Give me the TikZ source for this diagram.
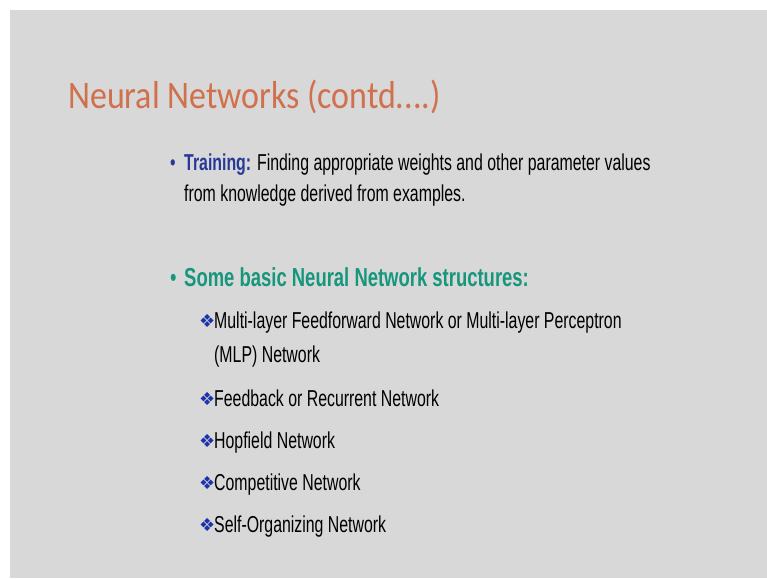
\documentclass[tikz,border=0pt]{standalone}
\usepackage{fontspec}
\newfontfamily\titlefont[FakeStretch=0.87]{Carlito}
\newfontfamily\bodyfont[FakeStretch=0.69]{Liberation Sans}
\newfontfamily\headfont[FakeStretch=0.71]{Liberation Sans}
\newfontfamily\symbfont{DejaVu Sans}
\definecolor{slidebg}{RGB}{216,216,216}
\definecolor{titleorange}{RGB}{208,112,76}
\definecolor{trainblue}{RGB}{40,56,150}
\definecolor{headgreen}{RGB}{22,150,124}
\definecolor{starblue}{RGB}{30,50,170}
\begin{document}
\begin{tikzpicture}[x=1pt,y=-1pt,
    txt/.style={anchor=base west,inner sep=0pt,font=\bodyfont\fontsize{23}{27}\selectfont},
    dot/.style={anchor=base west,inner sep=0pt,font=\bodyfont\fontsize{23}{27}\selectfont},
    star/.style={anchor=base west,inner sep=0pt,text=starblue,font=\symbfont\fontsize{18}{20}\selectfont}]
    \useasboundingbox (0,0) rectangle (767,578);
    \fill[white] (0,0) rectangle (767,578);
    \fill[slidebg] (10,10) rectangle (767,578);
    \node[anchor=base west,inner sep=0pt,text=titleorange,font=\titlefont\fontsize{39}{46}\selectfont] (title) at (68,108) {Neural Networks (contd....)};
    \node[dot,text=trainblue] (b1) at (170,170) {•};
    \node[txt] (train) at (184,170) {{\bfseries\color{trainblue}Training:} Finding appropriate weights and other parameter values};
    \node[txt] (train2) at (184,201) {from knowledge derived from examples.};
    \node[dot,text=headgreen,font=\headfont\fontsize{26}{30}\selectfont] (b2) at (170,286) {•};
    \node[txt,text=headgreen,font=\headfont\bfseries\fontsize{26}{30}\selectfont] (head) at (184,286) {Some basic Neural Network structures:};
    \node[star] (s1) at (199,327) {❖};
    \node[txt] (mlp) at (214,328) {Multi-layer Feedforward Network or Multi-layer Perceptron};
    \node[txt] (mlp2) at (214,362) {(MLP) Network};
    \node[star] (s2) at (199,405) {❖};
    \node[txt] (rec) at (214,406) {Feedback or Recurrent Network};
    \node[star] (s3) at (199,447) {❖};
    \node[txt] (hop) at (214,448) {Hopfield Network};
    \node[star] (s4) at (199,489) {❖};
    \node[txt] (comp) at (214,490) {Competitive Network};
    \node[star] (s5) at (199,531) {❖};
    \node[txt] (som) at (214,532) {Self-Organizing Network};
\end{tikzpicture}
\end{document}
